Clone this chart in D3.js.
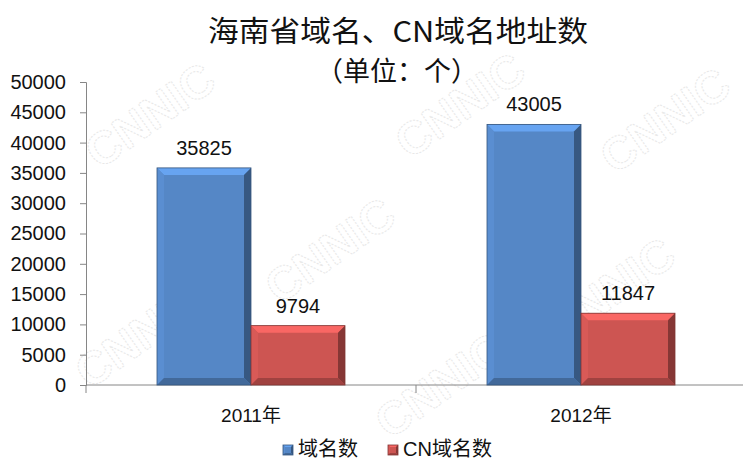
<!DOCTYPE html>
<html><head><meta charset="utf-8">
<script src="https://cdn.jsdelivr.net/npm/d3@7"></script>
<style>body{margin:0;background:#fff}svg{display:block}</style>
</head><body>
<svg id="c" width="743" height="461"></svg>
<script>
const categories = ["2011年", "2012年"];
const seriesNames = ["域名数", "CN域名数"];
const domainCounts = [35825, 43005];
const cnCounts = [9794, 11847];
const yTicks = [0, 5000, 10000, 15000, 20000, 25000, 30000, 35000, 40000, 45000, 50000];
const titleText = "海南省域名、CN域名地址数";
const subtitleText = "（单位：个）";
const watermarkText = "CNNIC";

const colors = ["#5587C6", "#CD5552"];
const svg = d3.select("#c");

// faint watermark, kept inside the picture
const wmCenters = [[150, 115], [460, 105], [665, 120], [330, 250], [610, 290], [140, 335], [440, 385]];
const wm = svg.append("g").attr("fill", "none").attr("stroke", "#e8e8e8").attr("stroke-width", 1).attr("stroke-dasharray", "2,1.5");
wmCenters.forEach(([cx, cy]) => {
  wm.append("text").attr("transform", `translate(${cx},${cy}) rotate(-35)`).attr("text-anchor", "middle").attr("dy", "0.35em")
    .attr("font-family", "Liberation Sans, Arial").attr("font-size", 46).attr("font-weight", "bold").text(watermarkText);
});

const x0 = d3.scaleBand().domain(categories).range([86, 746]).paddingInner(0).paddingOuter(0);
const y = d3.scaleLinear().domain([0, 50000]).range([385, 82]);
const barW = 94;

// title
svg.append("text").attr("x", 398).attr("y", 42).attr("text-anchor", "middle")
  .attr("font-family", "Noto Sans CJK SC").attr("font-size", 29).attr("fill", "#111")
  .attr("textLength", 380).attr("lengthAdjust", "spacingAndGlyphs").text(titleText);
svg.append("text").attr("x", 397).attr("y", 81).attr("text-anchor", "middle")
  .attr("font-family", "Noto Sans CJK SC").attr("font-size", 27).attr("fill", "#111")
  .text(subtitleText);

// y axis
const yAxis = d3.axisLeft(y).tickValues(yTicks).tickSize(6).tickPadding(14).tickFormat(d3.format("d"));
const gy = svg.append("g").attr("transform", "translate(86,0)").call(yAxis);
gy.select(".domain").attr("stroke", "#868686");
gy.selectAll(".tick line").attr("stroke", "#868686");
gy.selectAll(".tick text").attr("font-family", "Liberation Sans, Arial").attr("font-size", 20).attr("fill", "#111");

// x axis
svg.append("line").attr("x1", 86).attr("x2", 743).attr("y1", y(0)).attr("y2", y(0)).attr("stroke", "#868686");
[86, 416].forEach(t => svg.append("line").attr("x1", t).attr("x2", t).attr("y1", y(0)).attr("y2", y(0) + 8).attr("stroke", "#868686"));
svg.selectAll("text.cat").data(categories).enter().append("text").attr("class", "cat")
  .attr("x", d => x0(d) + x0.bandwidth() / 2).attr("y", 422).attr("text-anchor", "middle")
  .attr("font-family", "Liberation Sans, Noto Sans CJK SC").attr("font-size", 19).attr("fill", "#111").text(d => d);

// bars with bevel
function bevelBar(g, x, yTop, w, h, col, bv) {
  const b = Math.min(bv, h / 2);
  const base = d3.color(col);
  g.append("rect").attr("x", x).attr("y", yTop).attr("width", w).attr("height", h).attr("fill", base);
  const poly = (pts, fill) => g.append("polygon").attr("points", pts.map(p => p.join(",")).join(" ")).attr("fill", fill);
  const x1 = x + w, y1 = yTop + h;
  poly([[x, yTop], [x1, yTop], [x1 - b, yTop + b], [x + b, yTop + b]], base.brighter(0.55));
  poly([[x, yTop], [x + b, yTop + b], [x + b, y1 - b], [x, y1]], base.brighter(0.15));
  poly([[x1, yTop], [x1, y1], [x1 - b, y1 - b], [x1 - b, yTop + b]], base.darker(1.2));
  poly([[x, y1], [x + b, y1 - b], [x1 - b, y1 - b], [x1, y1]], base.darker(0.7));
  g.append("rect").attr("x", x).attr("y", yTop).attr("width", w).attr("height", h).attr("fill", "none").attr("stroke", base.darker(1.3)).attr("stroke-width", 0.8);
}
const series = [domainCounts, cnCounts];
const gb = svg.append("g");
categories.forEach((cat, i) => {
  const cx = x0(cat) + x0.bandwidth() / 2;
  series.forEach((vals, s) => {
    const bx = cx - barW + s * barW;
    bevelBar(gb, bx, y(vals[i]), barW, y(0) - y(vals[i]), colors[s], 7);
    svg.append("text").attr("x", bx + barW / 2).attr("y", y(vals[i]) - 13).attr("text-anchor", "middle")
      .attr("font-family", "Liberation Sans, Arial").attr("font-size", 20).attr("fill", "#111").text(vals[i]);
  });
});

// legend
const lg = svg.append("g");
const legendX = [283, 388];
seriesNames.forEach((n, s) => {
  bevelBar(lg, legendX[s], 445, 10, 10, colors[s], 2);
  lg.append("text").attr("x", legendX[s] + 15).attr("y", 456)
    .attr("font-family", "Liberation Sans, Noto Sans CJK SC").attr("font-size", 20).attr("fill", "#111").text(n);
});
</script>
</body></html>
